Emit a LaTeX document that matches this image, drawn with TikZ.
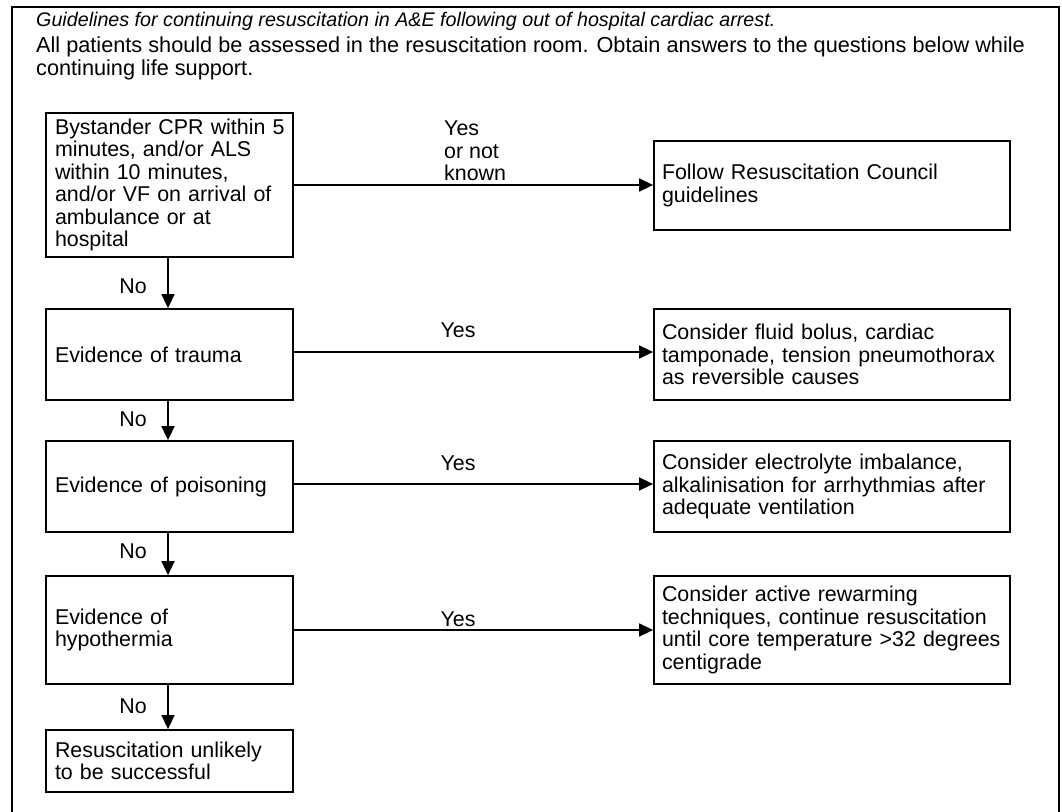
\documentclass[tikz,border=0pt]{standalone}
\usepackage{fontspec}
\setmainfont{Liberation Sans}
\usetikzlibrary{arrows.meta}
\begin{document}
\begin{tikzpicture}[x=1pt,y=-1pt,
  txt/.style={font=\fontsize{21.4}{22.4}\selectfont, inner sep=0pt},
  lbox/.style={txt, draw, line width=1.8pt, text width=229pt, inner xsep=9pt, inner ysep=0pt, align=left},
  rbox/.style={txt, draw, line width=1.8pt, text width=340pt, inner xsep=8pt, inner ysep=0pt, align=left},
  arr/.style={line width=1.6pt, -{Triangle[length=14pt,width=13pt]}},
  lab/.style={txt, anchor=base}]
\useasboundingbox (0,0) rectangle (1062,811);
\fill[white] (0,0) rectangle (1062,811);
\draw[line width=2.6pt] (12,812) -- (12,7) -- (1059,7) -- (1059,812);

\node[anchor=base west, inner sep=0pt, font=\fontsize{19.7}{22}\selectfont\itshape] (title) at (36,27)
  {Guidelines for continuing resuscitation in A\&E following out of hospital cardiac arrest.};
\node[txt, font=\fontsize{21.7}{22.4}\selectfont, align=left, anchor=north west] (intro) at (36,37)
  {All patients should be assessed in the resuscitation room. Obtain answers to the questions below while\\continuing life support.};

\node[lbox, minimum height=144pt] (q1) at (169.5,185)
  {\mbox{Bystander CPR within 5}\\minutes, and/or ALS\\within 10 minutes,\\\mbox{and/or VF on arrival of}\\ambulance or at\\hospital};
\node[rbox, minimum height=89pt] (a1) at (832,185.5)
  {Follow Resuscitation Council\\guidelines};
\node[lbox, minimum height=91pt] (q2) at (169.5,354.5) {Evidence of trauma};
\node[rbox, minimum height=91pt] (a2) at (832,354.5)
  {Consider fluid bolus, cardiac\\\mbox{tamponade, tension pneumothorax}\\as reversible causes};
\node[lbox, minimum height=91pt] (q3) at (169.5,486.5) {Evidence of poisoning};
\node[rbox, minimum height=91pt] (a3) at (832,486.5)
  {Consider electrolyte imbalance,\\\mbox{alkalinisation for arrhythmias after}\\adequate ventilation};
\node[lbox, minimum height=108pt] (q4) at (169.5,630) {Evidence of\\hypothermia};
\node[rbox, minimum height=108pt] (a4) at (832,630)
  {Consider active rewarming\\\mbox{techniques, continue resuscitation}\\\mbox{until core temperature >32 degrees}\\centigrade};
\node[lbox, minimum height=62pt] (q5) at (169.5,761) {\mbox{Resuscitation unlikely}\\to be successful};

% vertical "No" arrows
\draw[arr] ([xshift=-1.5pt]q1.south) -- ([xshift=-1.5pt]q2.north);
\draw[arr] ([xshift=-1.5pt]q2.south) -- ([xshift=-1.5pt]q3.north);
\draw[arr] ([xshift=-1.5pt]q3.south) -- ([xshift=-1.5pt]q4.north);
\draw[arr] ([xshift=-1.5pt]q4.south) -- ([xshift=-1.5pt]q5.north);

% horizontal "Yes" arrows
\draw[arr] (q1.east) -- (q1.east -| a1.west);
\draw[arr] ([yshift=2.5pt]q2.east) -- ([yshift=2.5pt]q2.east -| a2.west);
\draw[arr] ([yshift=2.5pt]q3.east) -- ([yshift=2.5pt]q3.east -| a3.west);
\draw[arr] (q4.east) -- (q4.east -| a4.west);

% labels
\node[txt, align=left, anchor=north west] (y1) at (444,120.7) {Yes\\or not\\known};
\node[lab] (y2) at (458,337.6) {Yes};
\node[lab] (y3) at (458,470) {Yes};
\node[lab] (y4) at (458,626) {Yes};
\node[lab] (n1) at (133,293) {No};
\node[lab] (n2) at (133,426) {No};
\node[lab] (n3) at (133,558.6) {No};
\node[lab] (n4) at (133,713.6) {No};
\end{tikzpicture}
\end{document}
